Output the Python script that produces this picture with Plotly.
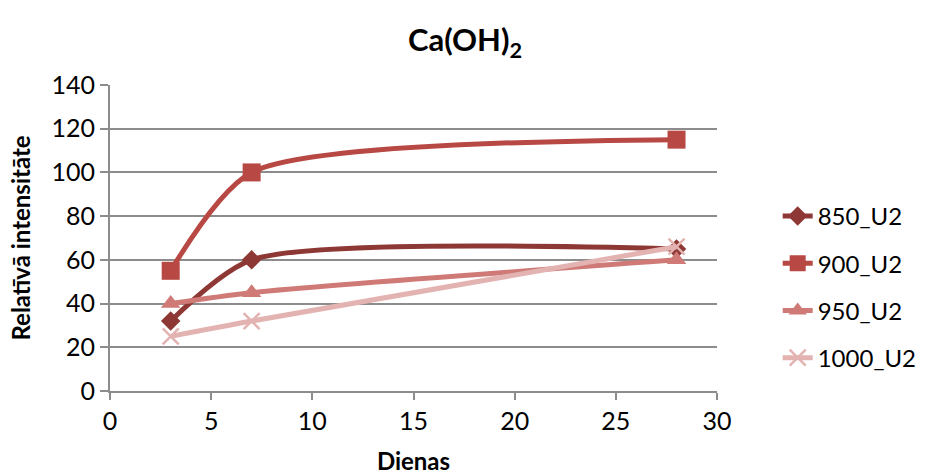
import plotly.graph_objects as go

# Days of measurement
dienas = [3, 7, 28]

# Relative intensity per sample series
s850 = [32, 60, 65]
s900 = [55, 100, 115]
s950 = [40, 45, 60]
s1000 = [25, 32, 66]

series = [
    ("850_U2", s850, "#8E3835", "diamond", 15),
    ("900_U2", s900, "#B84843", "square", 18),
    ("950_U2", s950, "#CF7A77", "triangle-up", 17),
    ("1000_U2", s1000, "#E3B3B2", "x-thin-open", 16),
]

font_family = "Lato, 'Open Sans', sans-serif"
grid_color = "#8C8C8C"

fig = go.Figure()
for name, vals, color, symbol, size in series:
    marker = dict(symbol=symbol, size=size, color=color)
    if symbol == "x-thin-open":
        marker["line"] = dict(color=color, width=2.5)
    fig.add_trace(go.Scatter(
        x=dienas, y=vals, name=name, mode="lines+markers",
        legendgroup=name,
        line=dict(color=color, width=5, shape="spline", smoothing=0.7),
        marker=marker,
    ))

fig.update_layout(
    width=930, height=475,
    margin=dict(l=110, r=213, t=85, b=84, autoexpand=False),
    paper_bgcolor="white", plot_bgcolor="white",
    font=dict(family=font_family, color="black", size=24),
    title=dict(
        text="<b>Ca(OH)<sub>2</sub></b>",
        x=0.5, xanchor="center", xref="container",
        y=0.915, yanchor="middle", yref="container",
        font=dict(size=31, family=font_family),
    ),
    legend=dict(
        x=1.1, xanchor="left", y=0.34, yanchor="middle",
        xref="paper", yref="paper",
        font=dict(size=24, family=font_family),
        tracegroupgap=13,
        bgcolor="rgba(0,0,0,0)",
    ),
    xaxis=dict(
        range=[0, 30], tickmode="linear", tick0=0, dtick=5,
        showgrid=False, zeroline=False, automargin=False,
        showline=True, linecolor=grid_color, linewidth=2,
        ticks="outside", ticklen=7, tickwidth=2, tickcolor=grid_color,
        tickfont=dict(size=25),
        title=dict(text="<b>Dienas</b>", font=dict(size=24), standoff=24),
    ),
    yaxis=dict(
        range=[0, 140], tickmode="linear", tick0=0, dtick=20,
        showgrid=True, gridcolor=grid_color, gridwidth=2,
        zeroline=False, automargin=False,
        showline=True, linecolor=grid_color, linewidth=2,
        ticks="outside", ticklen=8, tickwidth=2, tickcolor=grid_color,
        tickfont=dict(size=25),
        title=dict(text="<b>Relatīvā intensitāte</b>", font=dict(size=24), standoff=14),
    ),
)

fig.write_html("out.html")
